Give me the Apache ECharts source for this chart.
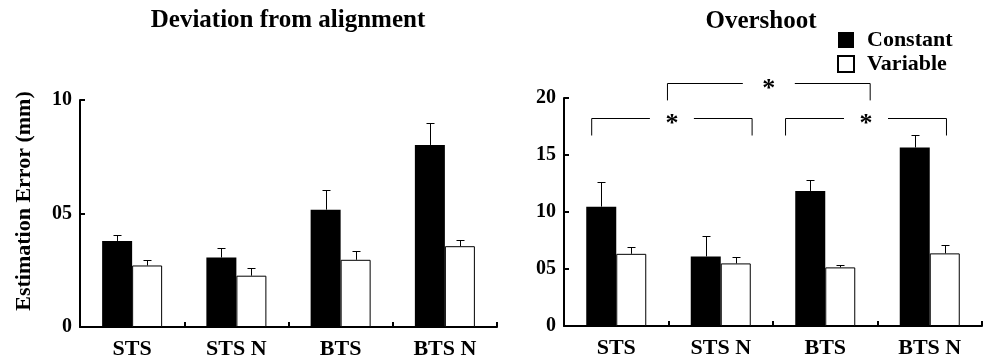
<!DOCTYPE html>
<html>
<head>
<meta charset="utf-8">
<script src="https://cdn.jsdelivr.net/npm/echarts@6/dist/echarts.min.js"></script>
<style>html,body{margin:0;padding:0;background:#fff;}#c{width:984px;height:360px;}</style>
</head>
<body>
<div id="c"></div>
<script>
const categories = ['STS', 'STS N', 'BTS', 'BTS N'];
const leftTickLabels = ['0', '05', '10'];
const rightTickLabels = ['0', '05', '10', '15', '20'];

const devConstant = [3.79, 3.06, 5.17, 8.02];
const devConstantSE = [0.27, 0.40, 0.88, 0.96];
const devVariable = [2.71, 2.26, 2.96, 3.56];
const devVariableSE = [0.25, 0.36, 0.38, 0.26];

const overConstant = [10.47, 6.10, 11.85, 15.66];
const overConstantSE = [2.17, 1.82, 0.99, 1.11];
const overVariable = [6.33, 5.49, 5.14, 6.37];
const overVariableSE = [0.57, 0.53, 0.23, 0.70];

// significance brackets: [fromCategory, fromFrac, toCategory, toFrac, lineLevel, endLevel]
const brackets = [
  ['STS', -0.235, 'STS N', 0.30, 18.24, 16.71],
  ['BTS', -0.38, 'BTS N', 0.16, 18.24, 16.71],
  ['STS', 0.49, 'BTS N', -0.57, 21.28, 19.79]
];

const FONT = '"Liberation Serif", "Times New Roman", serif';
const BAR_W = 30;

function errRender(offset) {
  return function (params, api) {
    const idx = api.value(0);
    const mean = api.value(1);
    const se = api.value(2);
    const p0 = api.coord([idx, mean]);
    const p1 = api.coord([idx, mean + se]);
    const x = Math.round(p0[0] + offset) + 0.5;
    const yt = Math.round(p1[1]) + 0.5;
    return {
      type: 'group',
      children: [
        { type: 'line', shape: { x1: x, y1: p0[1], x2: x, y2: yt }, style: { stroke: '#000', lineWidth: 1 } },
        { type: 'line', shape: { x1: x - 4, y1: yt, x2: x + 4, y2: yt }, style: { stroke: '#000', lineWidth: 1 } }
      ]
    };
  };
}

function errData(means, se) {
  return means.map((m, i) => [i, m, se[i]]);
}

function bracketRender(params, api) {
  const b = brackets[params.dataIndex];
  const i0 = categories.indexOf(b[0]);
  const i1 = categories.indexOf(b[2]);
  const band = api.size([1, 0])[0];
  const xa = api.coord([i0, b[4]])[0] + b[1] * band;
  const xb = api.coord([i1, b[4]])[0] + b[3] * band;
  const y = Math.round(api.coord([i0, b[4]])[1]) + 0.5;
  const ye = api.coord([i0, b[5]])[1];
  const xm = (xa + xb) / 2;
  const gap = params.dataIndex === 2 ? 26 : 22;
  const st = { stroke: '#000', lineWidth: 1, fill: null };
  return {
    type: 'group',
    children: [
      { type: 'polyline', shape: { points: [[xa, ye], [xa, y], [xm - gap, y]] }, style: st },
      { type: 'polyline', shape: { points: [[xm + gap, y], [xb, y], [xb, ye]] }, style: st },
      { type: 'text', x: xm, y: y + 6, style: { text: '*', font: 'bold 26px ' + FONT, fill: '#000', align: 'center', verticalAlign: 'middle' } }
    ]
  };
}

const axisCommonY = {
  type: 'value', min: 0, interval: 5,
  axisLine: { show: true, lineStyle: { color: '#000', width: 2 } },
  axisTick: { show: true, inside: true, length: 5, lineStyle: { color: '#000', width: 2 } },
  splitLine: { show: false },
  axisLabel: { color: '#000', fontFamily: FONT, fontWeight: 'bold', fontSize: 20, margin: 8 }
};
const axisCommonX = {
  type: 'category', data: categories,
  axisLine: { show: true, lineStyle: { color: '#000', width: 2 } },
  axisTick: { show: true, inside: true, length: 5, lineStyle: { color: '#000', width: 2 } },
  axisLabel: { color: '#000', fontFamily: FONT, fontWeight: 'bold', fontSize: 22, margin: 11 }
};

const option = {
  animation: false,
  backgroundColor: '#fff',
  title: [
    { text: 'Deviation from alignment', left: 283, top: 3, textAlign: 'center', textStyle: { fontFamily: FONT, fontWeight: 'bold', fontSize: 25, color: '#000' } },
    { text: 'Overshoot', left: 756, top: 4, textAlign: 'center', textStyle: { fontFamily: FONT, fontWeight: 'bold', fontSize: 25, color: '#000' } }
  ],
  legend: {
    data: ['Constant', 'Variable'],
    orient: 'vertical', left: 832, top: 24,
    icon: 'rect', itemWidth: 16, itemHeight: 16, itemGap: 2,
    textStyle: { fontFamily: FONT, fontWeight: 'bold', fontSize: 22, color: '#000', padding: [0, 0, 0, 8] }
  },
  graphic: [
    { type: 'text', x: 24, y: 201, rotation: Math.PI / 2, style: { text: 'Estimation Error (mm)', font: 'bold 22px ' + FONT, fill: '#000', align: 'center', verticalAlign: 'middle' } }
  ],
  grid: [
    { left: 80, top: 100, width: 417, height: 227, outerBoundsMode: 'none', containLabel: false },
    { left: 564, top: 98, width: 418, height: 228, outerBoundsMode: 'none', containLabel: false }
  ],
  xAxis: [
    Object.assign({ gridIndex: 0 }, axisCommonX),
    Object.assign({ gridIndex: 1 }, axisCommonX)
  ],
  yAxis: [
    Object.assign({}, axisCommonY, { gridIndex: 0, max: 10, axisLabel: Object.assign({}, axisCommonY.axisLabel, { formatter: (v) => leftTickLabels[v / 5] }) }),
    Object.assign({}, axisCommonY, { gridIndex: 1, max: 20, axisLabel: Object.assign({}, axisCommonY.axisLabel, { formatter: (v) => rightTickLabels[v / 5] }) })
  ],
  series: [
    { name: 'Constant', type: 'bar', xAxisIndex: 0, yAxisIndex: 0, data: devConstant, barWidth: BAR_W, barGap: '0%', itemStyle: { color: '#000' } },
    { name: 'Variable', type: 'bar', xAxisIndex: 0, yAxisIndex: 0, data: devVariable, barWidth: BAR_W, barGap: '0%', itemStyle: { color: '#fff', borderColor: '#000', borderWidth: 1 } },
    { type: 'custom', xAxisIndex: 0, yAxisIndex: 0, renderItem: errRender(-BAR_W / 2), data: errData(devConstant, devConstantSE), z: 5 },
    { type: 'custom', xAxisIndex: 0, yAxisIndex: 0, renderItem: errRender(BAR_W / 2), data: errData(devVariable, devVariableSE), z: 5 },
    { name: 'Constant', type: 'bar', xAxisIndex: 1, yAxisIndex: 1, data: overConstant, barWidth: BAR_W, barGap: '0%', itemStyle: { color: '#000' } },
    { name: 'Variable', type: 'bar', xAxisIndex: 1, yAxisIndex: 1, data: overVariable, barWidth: BAR_W, barGap: '0%', itemStyle: { color: '#fff', borderColor: '#000', borderWidth: 1 } },
    { type: 'custom', xAxisIndex: 1, yAxisIndex: 1, renderItem: errRender(-BAR_W / 2), data: errData(overConstant, overConstantSE), z: 5 },
    { type: 'custom', xAxisIndex: 1, yAxisIndex: 1, renderItem: errRender(BAR_W / 2), data: errData(overVariable, overVariableSE), z: 5 },
    { type: 'custom', xAxisIndex: 1, yAxisIndex: 1, renderItem: bracketRender, data: brackets.map((b, i) => [i, b[4]]), clip: false, z: 6 }
  ]
};

const chart = echarts.init(document.getElementById('c'));
chart.setOption(option);
</script>
</body>
</html>
